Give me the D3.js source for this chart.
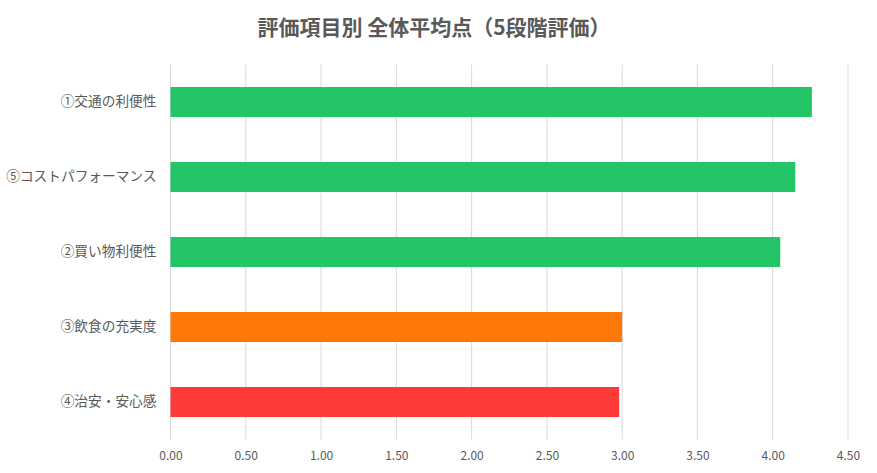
<!DOCTYPE html>
<html>
<head>
<meta charset="utf-8">
<script src="https://cdn.jsdelivr.net/npm/d3@7"></script>
<style>
  body { margin: 0; background: #fff; }
  text { font-family: "Noto Sans CJK JP", sans-serif; }
</style>
</head>
<body>
<div id="chart"></div>
<script>
const categories = ["①交通の利便性", "⑤コストパフォーマンス", "②買い物利便性", "③飲食の充実度", "④治安・安心感"];
const values = [4.26, 4.15, 4.05, 3.00, 2.98];
const colors = ["#24C566", "#24C566", "#24C566", "#FF7808", "#FF3A3A"];
const ticks = [0, 0.5, 1, 1.5, 2, 2.5, 3, 3.5, 4, 4.5];

const width = 877;
const height = 473;
const margin = {top: 64.5, right: 29, bottom: 33.5, left: 170.5};

const svg = d3.select('#chart')
  .append('svg')
  .attr('width', width)
  .attr('height', height);

const x = d3.scaleLinear()
  .domain([0, 4.5])
  .range([margin.left, width - margin.right]);

const y = d3.scaleBand()
  .domain(categories)
  .range([margin.top, height - margin.bottom])
  .paddingInner(0.6)
  .paddingOuter(0.3);

// title
svg.append('text')
  .attr('x', 434)
  .attr('y', 35)
  .attr('text-anchor', 'middle')
  .attr('font-size', 21)
  .attr('font-weight', 'bold')
  .attr('fill', '#595959')
  .text('評価項目別 全体平均点（5段階評価）');

// gridlines
svg.append('g')
  .selectAll('line')
  .data(ticks)
  .join('line')
    .attr('x1', d => x(d))
    .attr('x2', d => x(d))
    .attr('y1', margin.top)
    .attr('y2', height - margin.bottom)
    .attr('stroke', '#d9d9d9')
    .attr('stroke-width', 1);

// bars
svg.append('g')
  .selectAll('rect')
  .data(categories)
  .join('rect')
    .attr('x', x(0))
    .attr('y', d => y(d))
    .attr('width', (d, i) => x(values[i]) - x(0))
    .attr('height', y.bandwidth())
    .attr('fill', (d, i) => colors[i]);

// x tick labels
const xAxis = svg.append('g')
  .attr('transform', `translate(0,${height - margin.bottom})`)
  .call(d3.axisBottom(x).tickValues(ticks).tickFormat(d3.format('.2f')).tickSize(0).tickPadding(12));
xAxis.select('.domain').remove();
xAxis.selectAll('text')
  .attr('font-size', 12)
  .attr('fill', '#595959')
  .style('font-family', '"Noto Sans CJK JP", sans-serif');

// category labels
const yAxis = svg.append('g')
  .attr('transform', `translate(${margin.left},0)`)
  .call(d3.axisLeft(y).tickSize(0).tickPadding(14));
yAxis.select('.domain').remove();
yAxis.selectAll('text')
  .attr('font-size', 13.7)
  .attr('fill', '#595959')
  .style('font-family', '"Noto Sans CJK JP", sans-serif');
</script>
</body>
</html>
